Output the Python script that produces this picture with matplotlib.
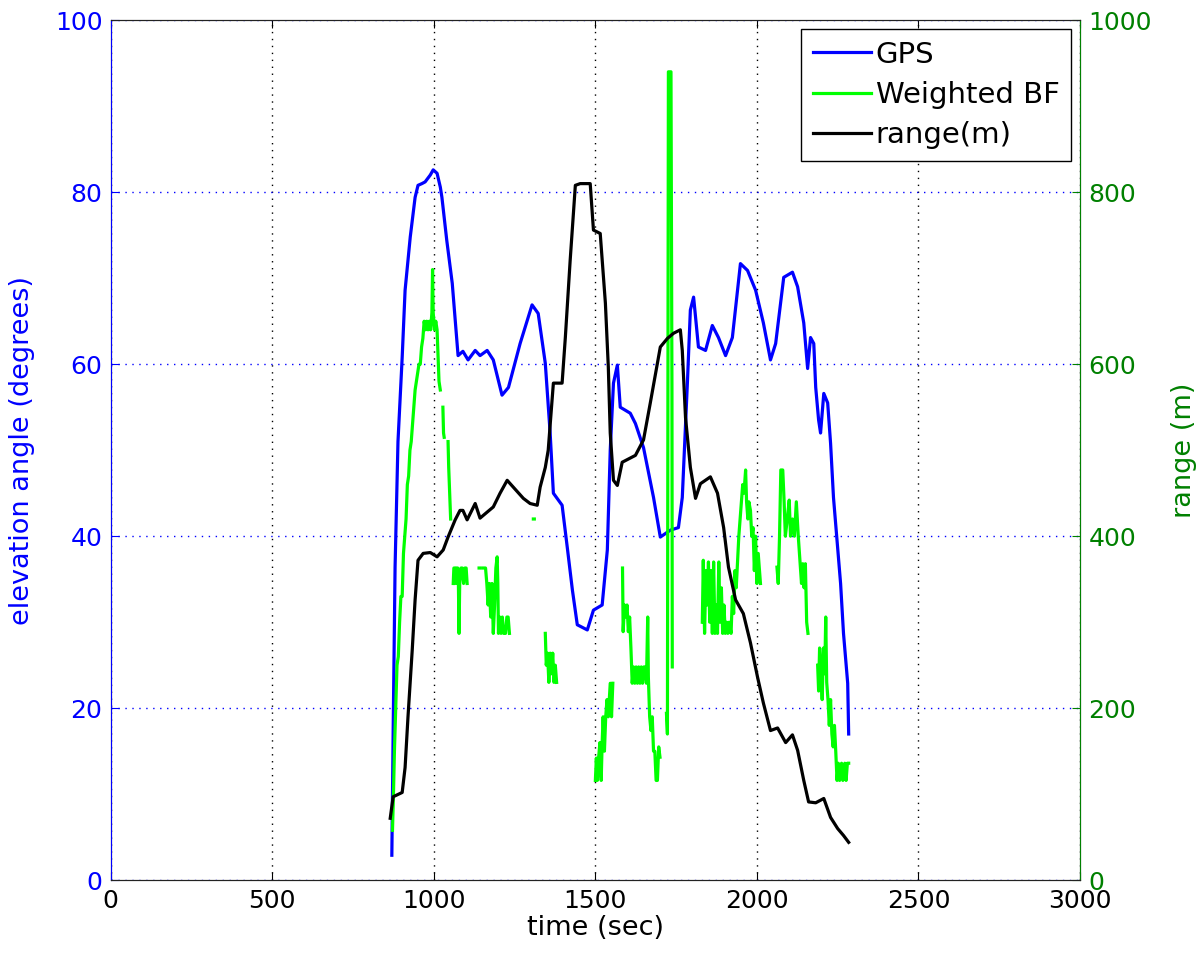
import numpy as np
import matplotlib
matplotlib.use("Agg")
from matplotlib import pyplot as plt

plt.rcParams['font.family'] = ['DejaVu Sans']

# GPS elevation angle (degrees)
gps_t = [870, 874, 880, 889, 902, 911, 927, 942, 951, 963, 973, 989, 998, 1010,
         1020, 1025, 1040, 1057, 1075, 1090, 1106, 1128, 1143, 1165, 1184, 1211,
         1231, 1267, 1304, 1323, 1345, 1360, 1370, 1397, 1413, 1429, 1444, 1475,
         1494, 1521, 1537, 1546, 1556, 1568, 1577, 1608, 1624, 1649, 1680, 1701,
         1732, 1757, 1769, 1785, 1794, 1804, 1810, 1819, 1841, 1862, 1881, 1903,
         1924, 1949, 1971, 1996, 2020, 2042, 2058, 2083, 2110, 2126, 2145, 2157,
         2166, 2176, 2182, 2191, 2197, 2207, 2219, 2228, 2237, 2259, 2268, 2281,
         2284]
gps_el = [2.9, 17, 36.4, 51, 60.8, 68.6, 74.8, 79.4, 80.8, 81.0, 81.2, 82.0, 82.6,
          82.2, 80.6, 79.4, 74.4, 69.4, 61.0, 61.5, 60.5, 61.6, 61.0, 61.6, 60.5,
          56.4, 57.3, 62.4, 66.9, 65.9, 60.1, 52.0, 45.0, 43.6, 38.7, 33.7, 29.7,
          29.1, 31.4, 32.0, 38.4, 50.0, 57.8, 59.9, 55.0, 54.3, 53.1, 50.3, 44.5,
          39.9, 40.7, 41.0, 44.5, 58.0, 66.3, 67.8, 65.5, 62.0, 61.6, 64.5, 63.1,
          61.0, 63.1, 71.7, 70.9, 68.6, 64.8, 60.5, 62.4, 70.1, 70.7, 69.0, 64.8,
          59.5, 63.1, 62.4, 57.3, 53.5, 52.0, 56.6, 55.5, 50.8, 44.5, 34.5, 28.7,
          22.9, 17.0]

# Weighted BF estimate (degrees), gaps where no estimate
bf_segments = [
    ([872, 875, 878, 882, 886, 890, 894, 898, 902, 906, 910, 914, 918, 922, 926,
      930, 934, 938, 942, 946, 950, 954, 958, 962, 966, 970, 974, 978, 982, 986,
      990, 994, 996, 998, 1002, 1006, 1010, 1013, 1016, 1020],
     [5.8, 10, 15, 20, 25, 26, 30, 33, 33, 38, 40, 42, 46, 47, 50, 51, 53, 55,
      57, 58, 59, 60, 60, 62, 63, 65, 64, 65, 64, 65, 64, 66, 71, 66, 64, 65,
      64, 61, 58, 57]),
    ([1028, 1030, 1032], [55, 52, 51.5]),
    ([1044, 1046, 1048, 1050, 1052], [51, 48, 46, 44, 42]),
    ([1060, 1062, 1066, 1068, 1070, 1074, 1076, 1078, 1080, 1084, 1088, 1092,
      1096, 1100, 1103],
     [34.5, 36.3, 36.3, 34.5, 36.3, 36.3, 34.5, 28.7, 34.5, 36.3, 36.3, 34.5,
      36.3, 36.3, 34.5]),
    ([1140, 1143], [36.3, 36.3]),
    ([1153, 1160, 1164, 1168, 1172, 1176, 1180, 1184, 1188, 1192, 1196, 1198,
      1200, 1204, 1208, 1212, 1216, 1222, 1226, 1230, 1234],
     [36.3, 36.3, 34.5, 32, 34.5, 30.6, 34.5, 28.7, 32, 36.3, 37.6, 34.5, 28.7,
      30.6, 28.7, 30.6, 28.7, 28.7, 30.6, 30.6, 28.7]),
    ([1308, 1311], [42.0, 42.0]),
    ([1345, 1348, 1352, 1356, 1360, 1364, 1368, 1372, 1376, 1380],
     [28.7, 25, 26.4, 23, 26.4, 24, 26.4, 23, 25, 23]),
    ([1500, 1503, 1506, 1510, 1514, 1518, 1521, 1524, 1528, 1532, 1536, 1540,
      1546, 1550, 1554],
     [11.6, 14.2, 11.6, 14.2, 16, 11.6, 16, 19, 15, 19, 21, 19, 22.9, 19, 22.9]),
    ([1584, 1586, 1590, 1594, 1598, 1602, 1606, 1610, 1614, 1618, 1622, 1626,
      1630, 1634, 1638, 1642, 1646, 1650, 1654, 1658, 1662, 1664, 1668, 1672,
      1676, 1680, 1684, 1688, 1692, 1696, 1700],
     [36.3, 28.9, 32, 30.6, 32, 28.9, 30.6, 27, 22.9, 24.8, 22.9, 24.8, 22.9,
      24.8, 22.9, 24.8, 22.9, 24.8, 24.8, 22.9, 30.6, 23.6, 19, 17.4, 19, 15,
      15, 11.6, 11.6, 15.5, 14.3]),
    ([1720, 1723, 1726, 1734, 1737, 1738],
     [19.4, 17, 94, 94, 57, 24.8]),
    ([1831, 1834, 1838, 1842, 1846, 1850, 1854, 1858, 1862, 1866, 1870, 1874,
      1878, 1882, 1886, 1890, 1894, 1898, 1902, 1906, 1910, 1914, 1920, 1924,
      1928, 1932, 1936, 1940, 1944, 1948, 1952, 1956, 1960, 1965, 1968, 1972,
      1975, 1980, 1984, 1988, 1992, 1996, 2000, 2004, 2008, 2011],
     [30, 37.2, 28.7, 36, 32, 37, 30, 36, 28.7, 37, 28.7, 32, 28.7, 37, 30, 34,
      28.7, 32, 28.7, 30, 28.7, 30, 28.7, 33, 31, 36, 34, 37, 40, 42, 44, 46,
      45, 47.7, 44, 42, 44, 43, 40, 41, 36, 40, 34.5, 38, 36, 34.5]),
    ([2062, 2066, 2070, 2074, 2080, 2084, 2088, 2094, 2100, 2104, 2110, 2116,
      2122, 2128, 2134, 2138, 2142, 2146, 2150, 2154, 2158],
     [36.4, 34.5, 40, 47.7, 47.7, 44.2, 40, 42, 44.2, 40, 42, 40, 44, 40, 36.8,
      34.5, 36.8, 34, 36.8, 30, 28.7]),
    ([2188, 2191, 2194, 2198, 2202, 2206, 2210, 2213, 2216, 2220, 2224, 2228,
      2232, 2236, 2240, 2244, 2248, 2252, 2256, 2262, 2266, 2272, 2276, 2280,
      2284],
     [25, 22, 27, 24.8, 21, 27, 24, 30.6, 23, 21, 18, 21, 17, 15.5, 18, 15,
      11.6, 13.6, 11.6, 13.6, 11.6, 13.6, 11.6, 13.6, 13.6]),
]

# range (m)
rng_t = [865, 874, 902, 911, 920, 933, 942, 951, 967, 989, 1010, 1029, 1044,
         1066, 1081, 1090, 1103, 1128, 1143, 1165, 1184, 1205, 1227, 1246, 1277,
         1298, 1320, 1329, 1345, 1354, 1370, 1397, 1407, 1422, 1438, 1453, 1484,
         1494, 1515, 1531, 1540, 1546, 1556, 1568, 1583, 1624, 1649, 1670, 1701,
         1723, 1742, 1763, 1769, 1779, 1794, 1810, 1825, 1856, 1878, 1897, 1912,
         1934, 1958, 1980, 2002, 2020, 2042, 2064, 2089, 2110, 2126, 2145, 2160,
         2182, 2207, 2228, 2250, 2268, 2284]
rng_m = [72, 97, 102, 131, 190, 267, 326, 372, 380, 381, 376, 384, 399, 419,
         430, 430, 419, 438, 421, 428, 434, 450, 465, 457, 444, 438, 436, 457,
         480, 500, 578, 578, 631, 721, 808, 810, 810, 756, 752, 671, 597, 520,
         465, 459, 486, 494, 512, 555, 620, 630, 636, 640, 616, 538, 480, 444,
         461, 469, 450, 410, 364, 326, 310, 276, 236, 206, 174, 177, 160, 169,
         151, 116, 91, 90, 95, 73, 60, 52, 44]

bf_t, bf_el = [], []
for seg_t, seg_v in bf_segments:
    bf_t += list(seg_t) + [np.nan]
    bf_el += list(seg_v) + [np.nan]

blue = '#0000FF'
green_axis = '#008000'

fig = plt.figure(figsize=(12.04, 9.63), dpi=100)
ax = fig.add_axes([0.092, 0.086, 0.805, 0.893])
ax2 = ax.twinx()

l1, = ax.plot(gps_t, gps_el, color=blue, lw=2.3, label='GPS')
l2, = ax.plot(bf_t, bf_el, color='#00FF00', lw=2.3, label='Weighted BF')
l3, = ax2.plot(rng_t, rng_m, color='black', lw=2.3, label='range(m)')

ax.set_xlim(0, 3000)
ax.set_ylim(0, 100)
ax2.set_ylim(0, 1000)
ax.set_xticks(range(0, 3001, 500))
ax.set_yticks(range(0, 101, 20))
ax2.set_yticks(range(0, 1001, 200))

ax.xaxis.grid(True, color='black', linestyle=(0, (1, 4)), lw=1.0)
ax.yaxis.grid(True, color=blue, linestyle=(0, (1, 4)), lw=1.0)

ax.tick_params(axis='x', direction='in', length=6, top=True, labelsize=18,
               colors='black', pad=6)
ax.tick_params(axis='y', direction='in', length=6, labelsize=18, colors=blue, pad=6)
ax2.tick_params(axis='y', direction='in', length=6, labelsize=18,
                colors=green_axis, pad=6)

for a in (ax, ax2):
    a.spines['top'].set_color('#222222')
    a.spines['bottom'].set_color('#222222')
ax2.spines['left'].set_color(blue)
ax2.spines['right'].set_color(green_axis)

ax.set_xlabel('time (sec)', fontsize=19.5, labelpad=2)
ax.set_ylabel('elevation angle (degrees)', fontsize=19.5, color=blue, labelpad=14)
ax2.set_ylabel('range (m)', fontsize=19.5, color=green_axis, labelpad=14)

leg = ax2.legend(handles=[l1, l2, l3], loc='upper right', fontsize=21,
                 fancybox=False, framealpha=1, edgecolor='black',
                 handlelength=2.0, handletextpad=0.15, labelspacing=0.42,
                 borderpad=0.4, borderaxespad=0.3)
leg.get_frame().set_linewidth(1.0)

fig.savefig('out.png', dpi=100)
